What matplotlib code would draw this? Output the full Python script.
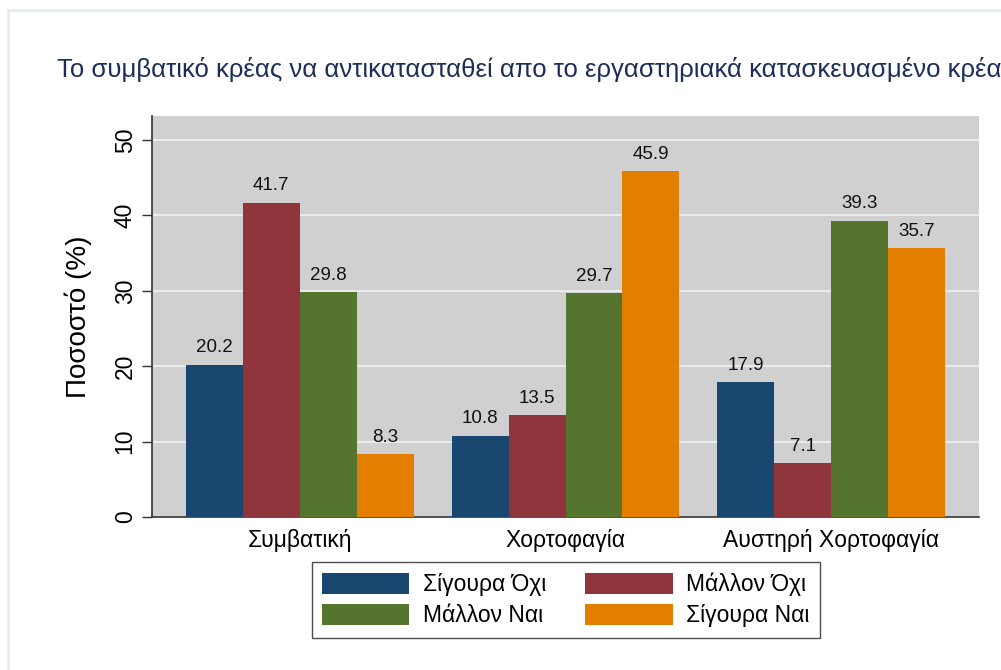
import matplotlib.pyplot as plt
from matplotlib.patches import Rectangle

plt.rcParams['font.family'] = ['Liberation Sans', 'DejaVu Sans']

categories = ["Συμβατική", "Χορτοφαγία", "Αυστηρή Χορτοφαγία"]
series_names = ["Σίγουρα Όχι", "Μάλλον Όχι", "Μάλλον Ναι", "Σίγουρα Ναι"]
sigoura_ohi = [20.2, 10.8, 17.9]
mallon_ohi = [41.7, 13.5, 7.1]
mallon_nai = [29.8, 29.7, 39.3]
sigoura_nai = [8.3, 45.9, 35.7]
colors = ["#1a476f", "#90353b", "#55752f", "#e37e00"]

W, H = 1001, 670
fig = plt.figure(figsize=(W / 100, H / 100), dpi=100)

# outer graph frame
fig.patches.append(Rectangle((8 / W, -0.1), 1.2, 1 - 10 / H + 0.1, transform=fig.transFigure,
                             fill=False, edgecolor="#e6edf1", linewidth=2))

ax = fig.add_axes([152 / W, 1 - 517 / H, (979 - 152) / W, (517 - 116) / H])
ax.set_facecolor("#d0d0d0")

group_step = 266 / 57
centers = [i * group_step for i in range(len(categories))]
all_series = [sigoura_ohi, mallon_ohi, mallon_nai, sigoura_nai]
offsets = [-1.5, -0.5, 0.5, 1.5]

handles = []
for vals, name, col, off in zip(all_series, series_names, colors, offsets):
    xs = [c + off for c in centers]
    bars = ax.bar(xs, vals, width=1.0, color=col, label=name, zorder=3)
    handles.append(bars)
    for x, v in zip(xs, vals):
        ax.annotate(f"{v:.1f}", (x, v), xytext=(0, 6), textcoords="offset points",
                    ha="center", va="bottom", fontsize=13.5, color="#111111", zorder=4)

pad = 2 + 34 / 57
ax.set_xlim(centers[0] - pad, centers[-1] + pad)
ax.set_ylim(0, 53.2)

ax.set_yticks([0, 10, 20, 30, 40, 50])
ax.set_yticklabels(["0", "10", "20", "30", "40", "50"], rotation=90, va="center", fontsize=16.5)
ax.yaxis.grid(True, color="#eef2f3", linewidth=1.2, zorder=0)
ax.set_axisbelow(True)
ax.tick_params(axis="y", length=7, width=1, color="#333333", pad=4)

ax.set_xticks(centers)
ax.set_xticklabels(categories, fontsize=16.5)
ax.tick_params(axis="x", length=0, pad=9)

for s in ["top", "right"]:
    ax.spines[s].set_visible(False)
for s in ["left", "bottom"]:
    ax.spines[s].set_color("#333333")
    ax.spines[s].set_linewidth(1.2)

ax.set_ylabel("Ποσοστό (%)", fontsize=20, labelpad=16)

fig.text(57 / W, 1 - 70 / H, "Το συμβατικό κρέας να αντικατασταθεί απο το εργαστηριακά κατασκευασμένο κρέας",
         fontsize=18.5, color="#1c2d5a", ha="left", va="center")

# row-wise legend order
order = [0, 2, 1, 3]
leg = ax.legend([handles[i] for i in order], [series_names[i] for i in order],
                loc="center", bbox_to_anchor=(566 / W, 1 - 600 / H), bbox_transform=fig.transFigure,
                ncol=2, fontsize=16.5, frameon=True, fancybox=False, edgecolor="#222222",
                handlelength=3.8, handleheight=1.05, handletextpad=0.6, columnspacing=1.7,
                borderpad=0.45, labelspacing=0.35)
leg.get_frame().set_linewidth(1.0)

fig.savefig("out.png", dpi=100)
